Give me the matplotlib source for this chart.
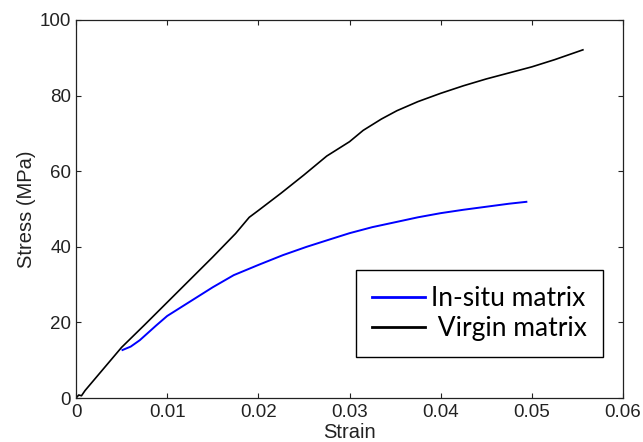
import matplotlib
matplotlib.use("Agg")
import matplotlib.pyplot as plt

# Stress-strain curves
virgin_strain = [0.0, 0.0003, 0.0006, 0.001, 0.005, 0.0075, 0.010, 0.0125, 0.015,
                 0.0175, 0.019, 0.020, 0.0225, 0.025, 0.0275, 0.030, 0.0315, 0.0335,
                 0.0352, 0.0375, 0.040, 0.0425, 0.045, 0.0475, 0.050, 0.0525, 0.0556]
virgin_stress = [0.0, 0.8, 0.6, 2.0, 13.4, 19.3, 25.3, 31.3, 37.3,
                 43.5, 47.8, 49.6, 54.2, 59.0, 64.0, 67.8, 70.8, 73.8,
                 76.0, 78.4, 80.6, 82.6, 84.4, 86.0, 87.6, 89.5, 92.1]

insitu_strain = [0.0051, 0.006, 0.007, 0.0088, 0.010, 0.0125, 0.015, 0.0173, 0.020,
                 0.0227, 0.0253, 0.0279, 0.030, 0.0325, 0.0352, 0.0375, 0.040,
                 0.0425, 0.045, 0.0475, 0.0494]
insitu_stress = [12.7, 13.6, 15.3, 19.2, 21.7, 25.5, 29.3, 32.5, 35.2,
                 37.8, 40.0, 42.0, 43.6, 45.2, 46.6, 47.8, 48.9,
                 49.8, 50.6, 51.4, 51.9]

x_ticks = [0, 0.01, 0.02, 0.03, 0.04, 0.05, 0.06]
x_tick_labels = ["0", "0.01", "0.02", "0.03", "0.04", "0.05", "0.06"]
y_ticks = [0, 20, 40, 60, 80, 100]
y_tick_labels = ["0", "20", "40", "60", "80", "100"]

plt.rcParams["font.family"] = ["Liberation Sans", "DejaVu Sans"]
text_color = "#222222"

fig = plt.figure(figsize=(6.43, 4.42), dpi=100)
ax = fig.add_axes([0.1182, 0.0995, 0.8507, 0.8553])

ax.plot(insitu_strain, insitu_stress, color="#0000ff", lw=1.4, label="In-situ matrix")
ax.plot(virgin_strain, virgin_stress, color="black", lw=1.2, label=" Virgin matrix")

ax.set_xlim(0, 0.06)
ax.set_ylim(0, 100)
ax.set_xticks(x_ticks)
ax.set_xticklabels(x_tick_labels)
ax.set_yticks(y_ticks)
ax.set_yticklabels(y_tick_labels)
ax.tick_params(direction="in", length=3.6, width=0.8, top=True, right=True,
               labelsize=13.5, colors=text_color)
ax.tick_params(axis="x", pad=4)
ax.tick_params(axis="y", pad=3.5)
for s in ax.spines.values():
    s.set_linewidth(0.9)
    s.set_color(text_color)

ax.set_xlabel("Strain", fontsize=14.5, color=text_color, labelpad=2)
ax.set_ylabel("Stress (MPa)", fontsize=14.5, color=text_color, labelpad=3)

leg = ax.legend(loc="lower right", bbox_to_anchor=(0.9634, 0.1085), borderaxespad=0,
                prop={"family": "Lato", "size": 19}, frameon=True, fancybox=False,
                edgecolor="black", framealpha=1, handlelength=2.0,
                handletextpad=0.25, borderpad=0.6, labelspacing=0.2)
leg.get_frame().set_linewidth(1.0)
for line in leg.get_lines():
    line.set_linewidth(2.0)

fig.savefig("out.png", dpi=100)
